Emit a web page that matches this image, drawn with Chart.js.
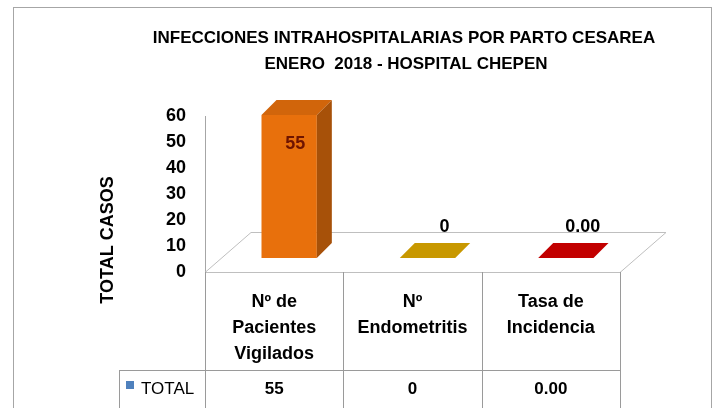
<!DOCTYPE html>
<html>
<head>
<meta charset="utf-8">
<script src="https://cdn.jsdelivr.net/npm/chart.js@4/dist/chart.umd.min.js"></script>
<style>
  html, body { margin: 0; padding: 0; background: #fff; }
  #wrap { width: 716px; height: 408px; }
</style>
</head>
<body>
<div id="wrap"><canvas id="chart"></canvas></div>
<script>
const titleLines   = ["INFECCIONES INTRAHOSPITALARIAS POR PARTO CESAREA", "ENERO  2018 - HOSPITAL CHEPEN"];
const categories   = ["Nº de Pacientes Vigilados", "Nº Endometritis", "Tasa de Incidencia"];
const headerLines  = [["Nº de", "Pacientes", "Vigilados"], ["Nº", "Endometritis"], ["Tasa de", "Incidencia"]];
const totals       = [55, 0, 0];
const totalLabels  = ["55", "0", "0.00"];
const barColors    = ["#E8700C", "#DEA900", "#D80000"];
const seriesName   = "TOTAL";
const yAxisTitle   = "TOTAL CASOS";

const FONT = "'Liberation Sans', Arial, sans-serif";

// 3D look: front face shift and bar depth
const SHIFT_X = 15, SHIFT_Y = -14, DEPTH = 15;
const FLOOR_DX = 46, FLOOR_DY = -40;

function shade(hex, f) {
  const n = parseInt(hex.slice(1), 16);
  const r = Math.round(((n >> 16) & 255) * f);
  const g = Math.round(((n >> 8) & 255) * f);
  const b = Math.round((n & 255) * f);
  return `rgb(${r},${g},${b})`;
}

function poly(ctx, pts, fill, stroke) {
  ctx.beginPath();
  ctx.moveTo(pts[0][0], pts[0][1]);
  pts.slice(1).forEach(p => ctx.lineTo(p[0], p[1]));
  ctx.closePath();
  if (fill) { ctx.fillStyle = fill; ctx.fill(); }
  if (stroke) { ctx.strokeStyle = stroke; ctx.lineWidth = 1; ctx.stroke(); }
}

const chart3d = {
  id: "chart3d",
  beforeDraw(chart) {
    const ctx = chart.ctx;
    ctx.save();
    ctx.fillStyle = "#fff";
    ctx.fillRect(0, 0, chart.width, chart.height);
    ctx.strokeStyle = "#A6A6A6";
    ctx.lineWidth = 1;
    ctx.strokeRect(13.5, 7.5, 698, 430);
    // title
    ctx.fillStyle = "#000";
    ctx.textAlign = "center";
    ctx.textBaseline = "middle";
    ctx.font = `bold 17px ${FONT}`;
    ctx.fillText(titleLines[0], 404, 38);
    ctx.fillText(titleLines[1], 406, 64);
    ctx.restore();
  },
  beforeDatasetsDraw(chart) {
    const ctx = chart.ctx;
    const { left, right, bottom } = chart.chartArea;
    // floor
    ctx.save();
    poly(ctx, [[left, bottom + 0.5], [right, bottom + 0.5],
               [right + FLOOR_DX, bottom + FLOOR_DY + 0.5], [left + FLOOR_DX, bottom + FLOOR_DY + 0.5]],
         "#fff", "#BFBFBF");
    ctx.restore();
    ctx.save();
    ctx.translate(SHIFT_X, SHIFT_Y);
  },
  afterDatasetsDraw(chart) {
    const ctx = chart.ctx;
    const meta = chart.getDatasetMeta(0);
    meta.data.forEach((el, i) => {
      const { x, y, base, width } = el.getProps(["x", "y", "base", "width"], true);
      const x0 = x - width / 2, x1 = x + width / 2;
      // side face
      if (base - y > 0.5) {
        poly(ctx, [[x1, y], [x1 + DEPTH, y - DEPTH], [x1 + DEPTH, base - DEPTH], [x1, base]],
             shade(barColors[i], 0.72));
      }
      // top face
      poly(ctx, [[x0, y], [x1, y], [x1 + DEPTH, y - DEPTH], [x0 + DEPTH, y - DEPTH]],
           shade(barColors[i], 0.9));
    });
    ctx.restore();

    // value labels
    ctx.save();
    ctx.font = `bold 18px ${FONT}`;
    ctx.textAlign = "center";
    ctx.textBaseline = "middle";
    meta.data.forEach((el, i) => {
      const { x, y, base } = el.getProps(["x", "y", "base"], true);
      const fx = x + SHIFT_X, fy = y + SHIFT_Y;
      if (base - y > 40) {
        ctx.fillStyle = "#6E1400";
        ctx.fillText(totalLabels[i], fx + 6, fy + 29);
      } else {
        ctx.fillStyle = "#000";
        ctx.fillText(totalLabels[i], fx + 17, fy - 31);
      }
    });
    ctx.restore();
  },
  afterDraw(chart) {
    const ctx = chart.ctx;
    const { left, right, bottom } = chart.chartArea;
    const xs = chart.scales.x;
    const colW = (right - left) / categories.length;
    const rowTop = 370, legLeft = 119;

    ctx.save();
    ctx.strokeStyle = "#9A9A9A";
    ctx.lineWidth = 1;
    ctx.beginPath();
    for (let i = 0; i <= categories.length; i++) {
      const cx = Math.round(left + i * colW) + 0.5;
      ctx.moveTo(cx, bottom);
      ctx.lineTo(cx, chart.height + 5);
    }
    ctx.moveTo(legLeft, rowTop + 0.5);
    ctx.lineTo(right, rowTop + 0.5);
    ctx.moveTo(legLeft + 0.5, rowTop);
    ctx.lineTo(legLeft + 0.5, chart.height + 5);
    ctx.stroke();

    // header cells
    ctx.fillStyle = "#000";
    ctx.textAlign = "center";
    ctx.textBaseline = "middle";
    ctx.font = `bold 18px ${FONT}`;
    headerLines.forEach((lines, i) => {
      const cx = xs.getPixelForValue(i);
      lines.forEach((t, j) => ctx.fillText(t, cx, 302 + j * 26));
    });

    // total row
    ctx.font = `bold 17px ${FONT}`;
    totalLabels.forEach((t, i) => ctx.fillText(t, xs.getPixelForValue(i), 389));
    ctx.fillStyle = "#4F81BD";
    ctx.fillRect(126, 381, 8, 8);
    ctx.fillStyle = "#000";
    ctx.textAlign = "left";
    ctx.font = `17px ${FONT}`;
    ctx.fillText(seriesName, 141, 389);

    // y axis title
    ctx.translate(108, 240);
    ctx.rotate(-Math.PI / 2);
    ctx.textAlign = "center";
    ctx.font = `bold 18px ${FONT}`;
    ctx.fillText(yAxisTitle, 0, 0);
    ctx.restore();
  }
};

new Chart(document.getElementById("chart"), {
  type: "bar",
  data: {
    labels: categories,
    datasets: [{
      label: seriesName,
      data: totals,
      backgroundColor: barColors,
      borderWidth: 0,
      categoryPercentage: 1,
      barPercentage: 0.4,
    }]
  },
  plugins: [chart3d],
  options: {
    responsive: true,
    maintainAspectRatio: false,
    animation: false,
    layout: { padding: { top: 116, right: 96, bottom: 136, left: 0 } },
    plugins: {
      legend: { display: false },
      tooltip: { enabled: false },
      title: { display: false },
    },
    scales: {
      x: { display: false },
      y: {
        min: 0,
        max: 60,
        grid: { display: false, drawTicks: false },
        border: { display: true, color: "#A6A6A6" },
        ticks: { stepSize: 10, color: "#000", padding: 19, font: { family: FONT, size: 18, weight: "bold" } },
        afterFit(scale) { scale.width = 205; },
      }
    }
  }
});
</script>
</body>
</html>
